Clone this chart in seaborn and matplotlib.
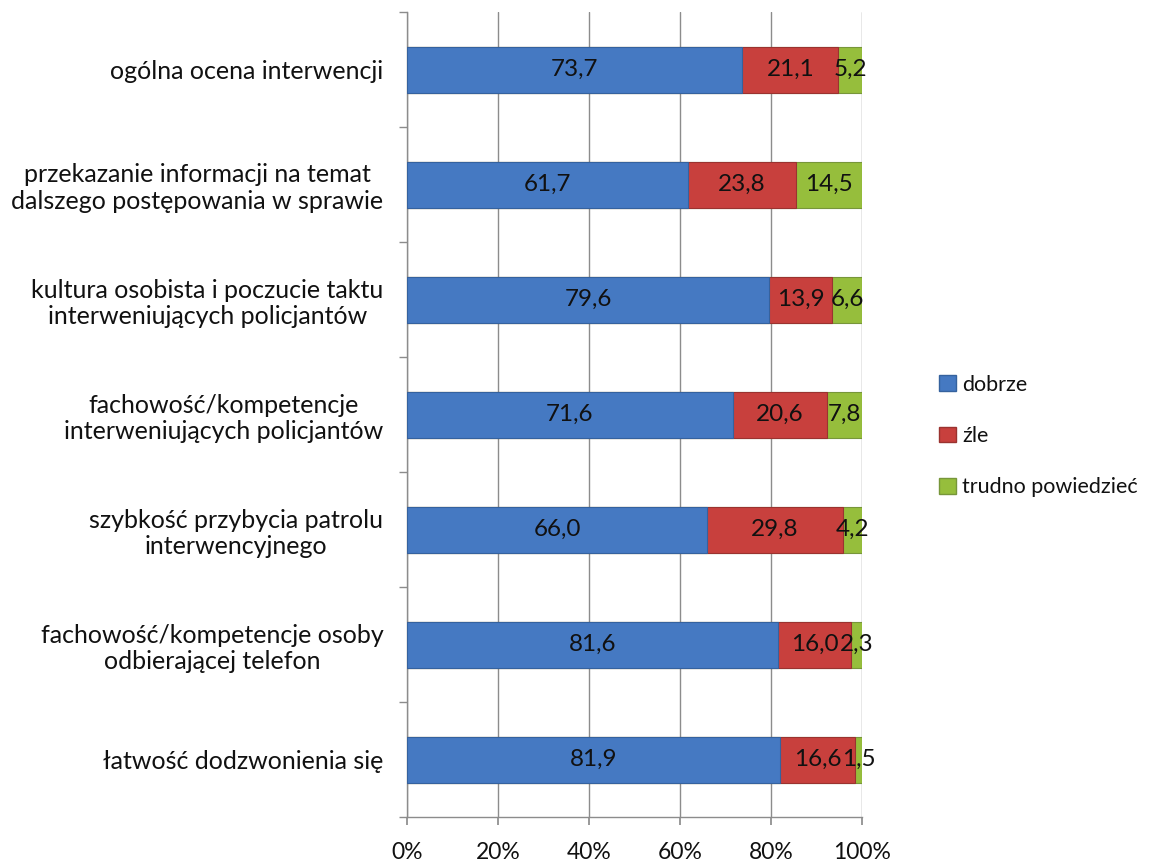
import matplotlib
matplotlib.use("Agg")
import matplotlib.pyplot as plt
import matplotlib.patches as mpatches
from matplotlib.ticker import FixedLocator, FuncFormatter
import numpy as np
import pandas as pd
import seaborn as sns

categories = [
    "ogólna ocena interwencji",
    "przekazanie informacji na temat\ndalszego postępowania w sprawie",
    "kultura osobista i poczucie taktu\ninterweniujących policjantów",
    "fachowość/kompetencje\ninterweniujących policjantów",
    "szybkość przybycia patrolu\ninterwencyjnego",
    "fachowość/kompetencje osoby\nodbierającej telefon",
    "łatwość dodzwonienia się",
]
dobrze = [73.7, 61.7, 79.6, 71.6, 66.0, 81.6, 81.9]
zle = [21.1, 23.8, 13.9, 20.6, 29.8, 16.0, 16.6]
trudno = [5.2, 14.5, 6.6, 7.8, 4.2, 2.3, 1.5]
series_names = ["dobrze", "źle", "trudno powiedzieć"]
x_ticks = [0, 20, 40, 60, 80, 100]
colors = ["#4579C2", "#C8403D", "#96BE3C"]
edge_colors = ["#35629E", "#9A3330", "#77963A"]

sns.set_theme(style="white")
plt.rcParams["font.family"] = ["Lato", "DejaVu Sans"]

df = pd.DataFrame({"cat": categories, "dobrze": dobrze, "zle": zle, "trudno": trudno})
df["c1"] = df["dobrze"]
df["c2"] = df["dobrze"] + df["zle"]
df["c3"] = df["dobrze"] + df["zle"] + df["trudno"]

fig = plt.figure(figsize=(11.65, 8.66), dpi=100)
ax = fig.add_axes([407 / 1165, 49 / 866, (862 - 407) / 1165, (817 - 12) / 866])

ax.set_axisbelow(True)
for col, c, ec in zip(["c3", "c2", "c1"], colors[::-1], edge_colors[::-1]):
    sns.barplot(data=df, x=col, y="cat", orient="h", color=c, width=0.4,
                saturation=1, edgecolor=ec, linewidth=0.8, ax=ax, zorder=3)

fs_data = 17.5
for i in range(len(categories)):
    starts = [0, df["c1"][i], df["c2"][i]]
    vals = [dobrze[i], zle[i], trudno[i]]
    for s, v in zip(starts, vals):
        ax.text(s + v / 2, i, f"{v:.1f}".replace(".", ","), ha="center", va="center",
                fontsize=fs_data, color="#111111", zorder=5)

ax.set_xlim(0, 100)
ax.set_ylim(len(categories) - 0.5, -0.5)
ax.xaxis.set_major_locator(FixedLocator(x_ticks))
ax.xaxis.set_major_formatter(FuncFormatter(lambda v, p: f"{int(v)}%"))
ax.grid(axis="x", color="#8C8C8C", linewidth=1.0)
ax.grid(axis="y", visible=False)
ax.set_xlabel("")
ax.set_ylabel("")

for sp in ["top", "right"]:
    ax.spines[sp].set_visible(False)
for sp in ["left", "bottom"]:
    ax.spines[sp].set_color("#8C8C8C")
    ax.spines[sp].set_linewidth(1.0)

ax.tick_params(axis="x", which="major", length=6, color="#8C8C8C", labelsize=16.5, pad=12,
               labelcolor="#111111", direction="out", bottom=True)
ax.tick_params(axis="y", which="major", length=0, labelsize=18, pad=17, labelcolor="#111111")
ax.yaxis.set_minor_locator(FixedLocator(np.arange(-0.5, len(categories), 1.0)))
ax.tick_params(axis="y", which="minor", length=6, color="#8C8C8C", direction="out", left=True)
for lab in ax.get_yticklabels():
    lab.set_multialignment("center")
    lab.set_linespacing(1.2)

handles = [mpatches.Patch(facecolor=c, edgecolor=ec, label=n)
           for c, ec, n in zip(colors, edge_colors, series_names)]
fig.legend(handles=handles, loc="center left", bbox_to_anchor=(920 / 1165, 1 - 436 / 866),
           frameon=False, fontsize=15.5, handlelength=0.75, handleheight=0.75,
           handletextpad=0.3, labelspacing=1.45, labelcolor="#111111")

fig.savefig("out.png", dpi=100)
